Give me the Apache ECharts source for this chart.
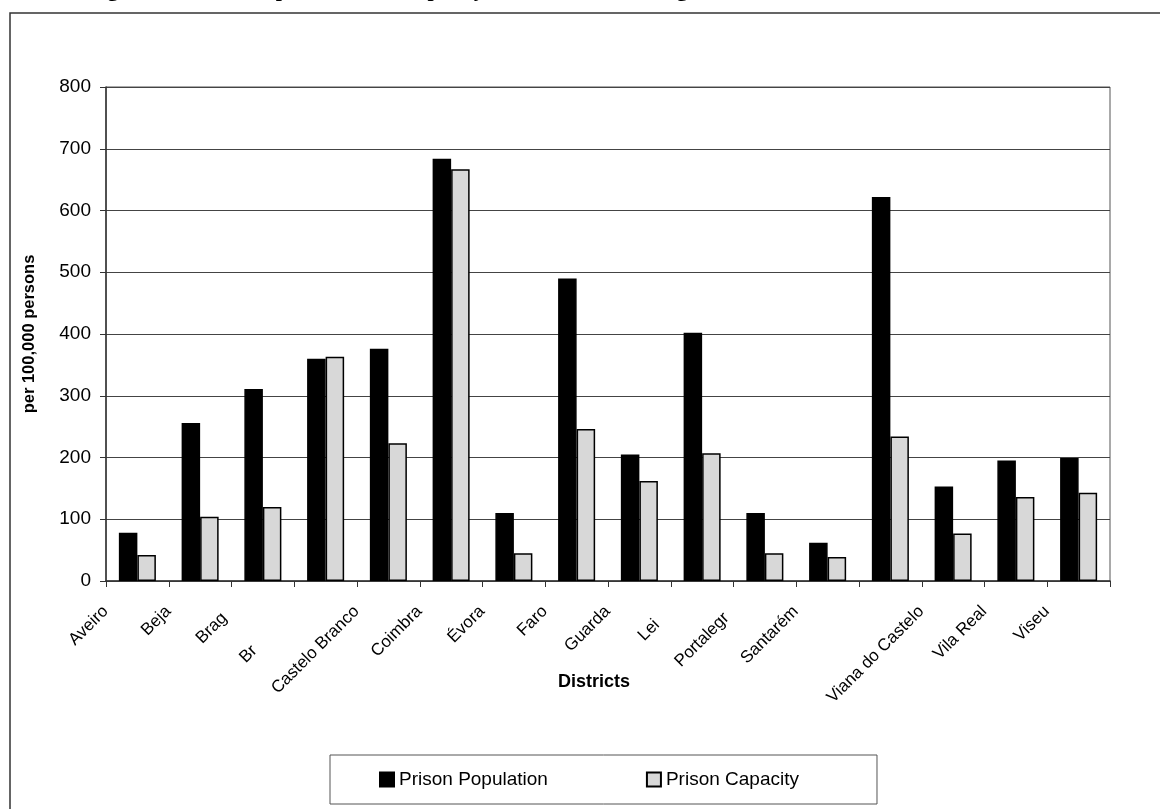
<!DOCTYPE html>
<html>
<head>
<meta charset="utf-8">
<title>Prison Population and Capacity</title>
<script src="https://cdn.jsdelivr.net/npm/echarts@6/dist/echarts.min.js"></script>
<style>
  html, body { margin: 0; padding: 0; background: #fff; }
  #chart { width: 1160px; height: 809px; }
</style>
</head>
<body>
<div id="chart"></div>
<script>
// District names, in axis order
const districts = [
  'Aveiro', 'Beja', 'Braga', 'Bragança', 'Castelo Branco', 'Coimbra',
  'Évora', 'Faro', 'Guarda', 'Leiria', 'Portalegre', 'Santarém',
  'Setúbal', 'Viana do Castelo', 'Vila Real', 'Viseu'
];
// Printed part of each axis label (the rest of the name is left blank)
const tickLabels = [
  'Aveiro', 'Beja', 'Brag', 'Br', 'Castelo Branco', 'Coimbra',
  'Évora', 'Faro', 'Guarda', 'Lei', 'Portalegr', 'Santarém',
  '', 'Viana do Castelo', 'Vila Real', 'Viseu'
];
// Prisoners per 100,000 persons
const prisonPopulation = [78, 256, 311, 360, 376, 684, 110, 490, 205, 402, 110, 62, 622, 153, 195, 199];
// Prison places per 100,000 persons
const prisonCapacity = [42, 104, 120, 363, 223, 667, 45, 246, 162, 207, 45, 39, 234, 77, 136, 143];
// Value axis ticks
const yTicks = { min: 0, max: 800, step: 100 };

const labelSize = 17;
const labelFont = labelSize + 'px "Liberation Sans", Arial, sans-serif';

// Width of the unprinted tail of each label, so the printed part sits where the full name would
const measureCtx = document.createElement('canvas').getContext('2d');
measureCtx.font = labelFont;
const labelRich = {};
districts.forEach(function (name, i) {
  const tail = name.slice(tickLabels[i].length);
  labelRich['t' + i] = { width: tail ? measureCtx.measureText(tail).width : 0, fontSize: labelSize };
});

const chart = echarts.init(document.getElementById('chart'));

chart.setOption({
  backgroundColor: '#ffffff',
  animation: false,
  textStyle: { fontFamily: '"Liberation Sans", Arial, sans-serif', color: '#000' },
  graphic: [
    {
      type: 'text',
      left: 88,
      top: -21,
      style: {
        text: 'Figure 2 - Prison Population and Capacity in Districts of Portugal, 2002',
        font: 'bold 22px "Liberation Serif", "Times New Roman", serif',
        fill: '#000'
      }
    },
    {
      type: 'rect',
      shape: { x: 10, y: 13, width: 1200, height: 900 },
      style: { fill: 'none', stroke: '#333', lineWidth: 1.5 },
      silent: true
    }
  ],
  grid: {
    left: 106, right: 50, top: 87, bottom: 228,
    show: true, borderColor: '#555', borderWidth: 1
  },
  legend: {
    left: 330, top: 755,
    itemWidth: 14, itemHeight: 14, itemGap: 98,
    padding: [15, 78, 15, 49],
    borderColor: '#555', borderWidth: 1,
    icon: 'rect',
    textStyle: { fontSize: 19, color: '#000', fontFamily: '"Liberation Sans", Arial, sans-serif' },
    data: ['Prison Population', 'Prison Capacity']
  },
  xAxis: {
    type: 'category',
    data: districts,
    name: 'Districts',
    nameLocation: 'middle',
    nameGap: 92,
    nameMoveOverlap: false,
    nameTextStyle: { fontSize: 18, fontWeight: 'bold', color: '#000', padding: [0, 28, 0, 0] },
    axisLine: { lineStyle: { color: '#333', width: 1.5 } },
    axisTick: { show: true, length: 6, lineStyle: { color: '#333' } },
    axisLabel: {
      interval: 0,
      rotate: 45,
      margin: -4,
      padding: [0, 45, 0, 0],
      color: '#000',
      fontSize: labelSize,
      rich: labelRich,
      formatter: function (value, index) {
        return tickLabels[index] + '{t' + index + '|}';
      }
    },
    splitLine: { show: false }
  },
  yAxis: {
    type: 'value',
    min: yTicks.min,
    max: yTicks.max,
    interval: yTicks.step,
    name: 'per 100,000 persons',
    nameLocation: 'middle',
    nameGap: 68,
    nameRotate: 90,
    nameMoveOverlap: false,
    nameTextStyle: { fontSize: 16.5, fontWeight: 'bold', color: '#000' },
    axisLine: { show: true, lineStyle: { color: '#333', width: 1.5 } },
    axisTick: { show: true, length: 6, lineStyle: { color: '#333' } },
    axisLabel: { color: '#000', fontSize: 19, margin: 15 },
    splitLine: { show: true, lineStyle: { color: '#444', width: 1 } }
  },
  series: [
    {
      name: 'Prison Population',
      type: 'bar',
      data: prisonPopulation,
      barGap: '0%',
      barCategoryGap: '41%',
      itemStyle: { color: '#000', borderColor: '#000', borderWidth: 1.5 }
    },
    {
      name: 'Prison Capacity',
      type: 'bar',
      data: prisonCapacity,
      barGap: '0%',
      barCategoryGap: '41%',
      itemStyle: { color: '#d8d8d8', borderColor: '#000', borderWidth: 1.5 }
    }
  ]
});
</script>
</body>
</html>
